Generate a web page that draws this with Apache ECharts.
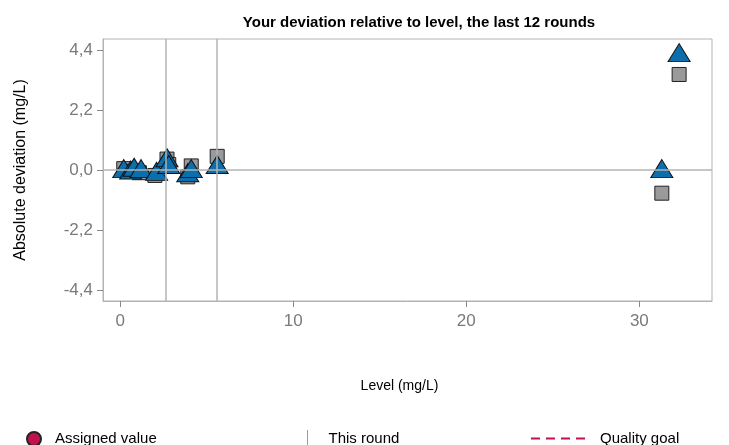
<!DOCTYPE html>
<html>
<head>
<meta charset="utf-8">
<script src="https://cdn.jsdelivr.net/npm/echarts@6/dist/echarts.min.js"></script>
<style>
  html, body { margin: 0; padding: 0; background: #fff; }
  #chart { width: 729px; height: 445px; }
</style>
</head>
<body>
<div id="chart"></div>
<script>
// deviation points, [level, deviation]
var squarePoints = [
  [0.2, 0.05], [0.5, -0.05], [1.1, -0.1], [2.0, -0.2], [2.7, 0.4], [2.8, 0.2],
  [3.9, -0.25], [4.1, 0.15], [5.6, 0.5], [31.3, -0.85], [32.3, 3.5]
];
var trianglePoints = [
  [0.2, 0.05], [0.6, 0.0], [0.8, 0.1], [1.2, 0.05], [2.1, -0.05], [2.7, 0.45],
  [2.8, 0.2], [3.9, -0.1], [4.1, 0.05], [5.6, 0.2], [31.3, 0.05], [32.3, 4.3]
];
var thisRoundLevels = [2.6, 5.6];
var yTicks = [-4.4, -2.2, 0, 2.2, 4.4];
var xTicks = [0, 10, 20, 30];

var chart = echarts.init(document.getElementById('chart'));
var grey = '#7a7a7a';
var frame = '#b3b3b3';
var crimson = '#c0134b';
var legendText = { fontFamily: 'Liberation Sans', fontSize: 15, color: '#000', padding: [0, 0, 0, 9] };

var option = {
  animation: false,
  title: {
    text: 'Your deviation relative to level, the last 12 rounds',
    left: 414, top: 10, textAlign: 'center',
    textStyle: { fontFamily: 'Liberation Sans', fontSize: 15, fontWeight: 'bold', color: '#000' }
  },
  grid: {
    left: 103, right: 17, top: 39, bottom: 144,
    show: true, borderColor: frame, borderWidth: 1
  },
  legend: [
    {
      left: 21, top: 426, itemWidth: 14, itemHeight: 14,
      textStyle: legendText,
      data: [{ name: 'Assigned value', icon: 'circle' }]
    },
    {
      left: 302, top: 425, itemWidth: 14, itemHeight: 18,
      textStyle: legendText,
      data: [{ name: 'This round', icon: 'path://M6.5,0 L7.5,0 L7.5,18 L6.5,18 Z' }]
    },
    {
      left: 526, top: 426, itemWidth: 56, itemHeight: 2,
      textStyle: legendText,
      data: [{ name: 'Quality goal',
        icon: 'path://M0,0H9V2H0Z M15,0H24V2H15Z M30,0H39V2H30Z M45,0H54V2H45Z' }]
    }
  ],
  xAxis: {
    type: 'value', min: -1, max: 34.2, position: 'bottom',
    name: 'Level (mg/L)', nameLocation: 'middle', nameGap: 78,
    nameTextStyle: { fontFamily: 'Liberation Sans', fontSize: 14, color: '#000', padding: [0, 16, 0, 0] },
    axisLine: { show: true, onZero: false, lineStyle: { color: frame } },
    axisTick: { show: true, inside: false, length: 6, lineStyle: { color: '#888', width: 1 }, customValues: xTicks },
    axisLabel: { color: grey, fontSize: 17, fontFamily: 'Liberation Sans', margin: 12, customValues: xTicks },
    splitLine: { show: false }
  },
  yAxis: {
    type: 'value', min: -4.8, max: 4.8, position: 'left',
    name: 'Absolute deviation (mg/L)', nameLocation: 'middle', nameGap: 74,
    nameTextStyle: { fontFamily: 'Liberation Sans', fontSize: 16, color: '#000' },
    axisLine: { show: true, onZero: false, lineStyle: { color: frame } },
    axisTick: { show: true, inside: false, length: 6, lineStyle: { color: '#888', width: 1 }, customValues: yTicks },
    axisLabel: {
      color: grey, fontSize: 17, fontFamily: 'Liberation Sans', margin: 10,
      customValues: yTicks,
      formatter: function (v) { return v.toFixed(1).replace('.', ','); }
    },
    splitLine: { show: false }
  },
  series: [
    {
      name: 'Assigned value', type: 'scatter', data: [],
      itemStyle: { color: crimson, borderColor: '#222', borderWidth: 1, opacity: 1 }
    },
    {
      name: 'This round', type: 'line', data: [],
      itemStyle: { color: '#999' },
      markLine: {
        silent: true, symbol: 'none', label: { show: false },
        lineStyle: { color: frame, type: 'solid', width: 1.5 },
        data: thisRoundLevels.map(function (x) { return { xAxis: x }; })
          .concat([{ yAxis: 0 }])
      }
    },
    {
      name: 'Quality goal', type: 'line', data: [], symbol: 'none',
      itemStyle: { color: crimson },
      lineStyle: { color: crimson, type: [6, 5], width: 2 }
    },
    {
      name: 'squares', type: 'scatter', symbol: 'rect', symbolSize: 14,
      data: squarePoints,
      itemStyle: { color: '#9a9a9a', borderColor: '#222', borderWidth: 1, opacity: 1 }
    },
    {
      name: 'triangles', type: 'scatter', symbol: 'triangle', symbolSize: [22, 18],
      data: trianglePoints,
      itemStyle: { color: '#0b6fae', borderColor: '#111', borderWidth: 1, opacity: 1 }
    }
  ]
};

chart.setOption(option);
window.addEventListener('resize', function () { chart.resize(); });
</script>
</body>
</html>
